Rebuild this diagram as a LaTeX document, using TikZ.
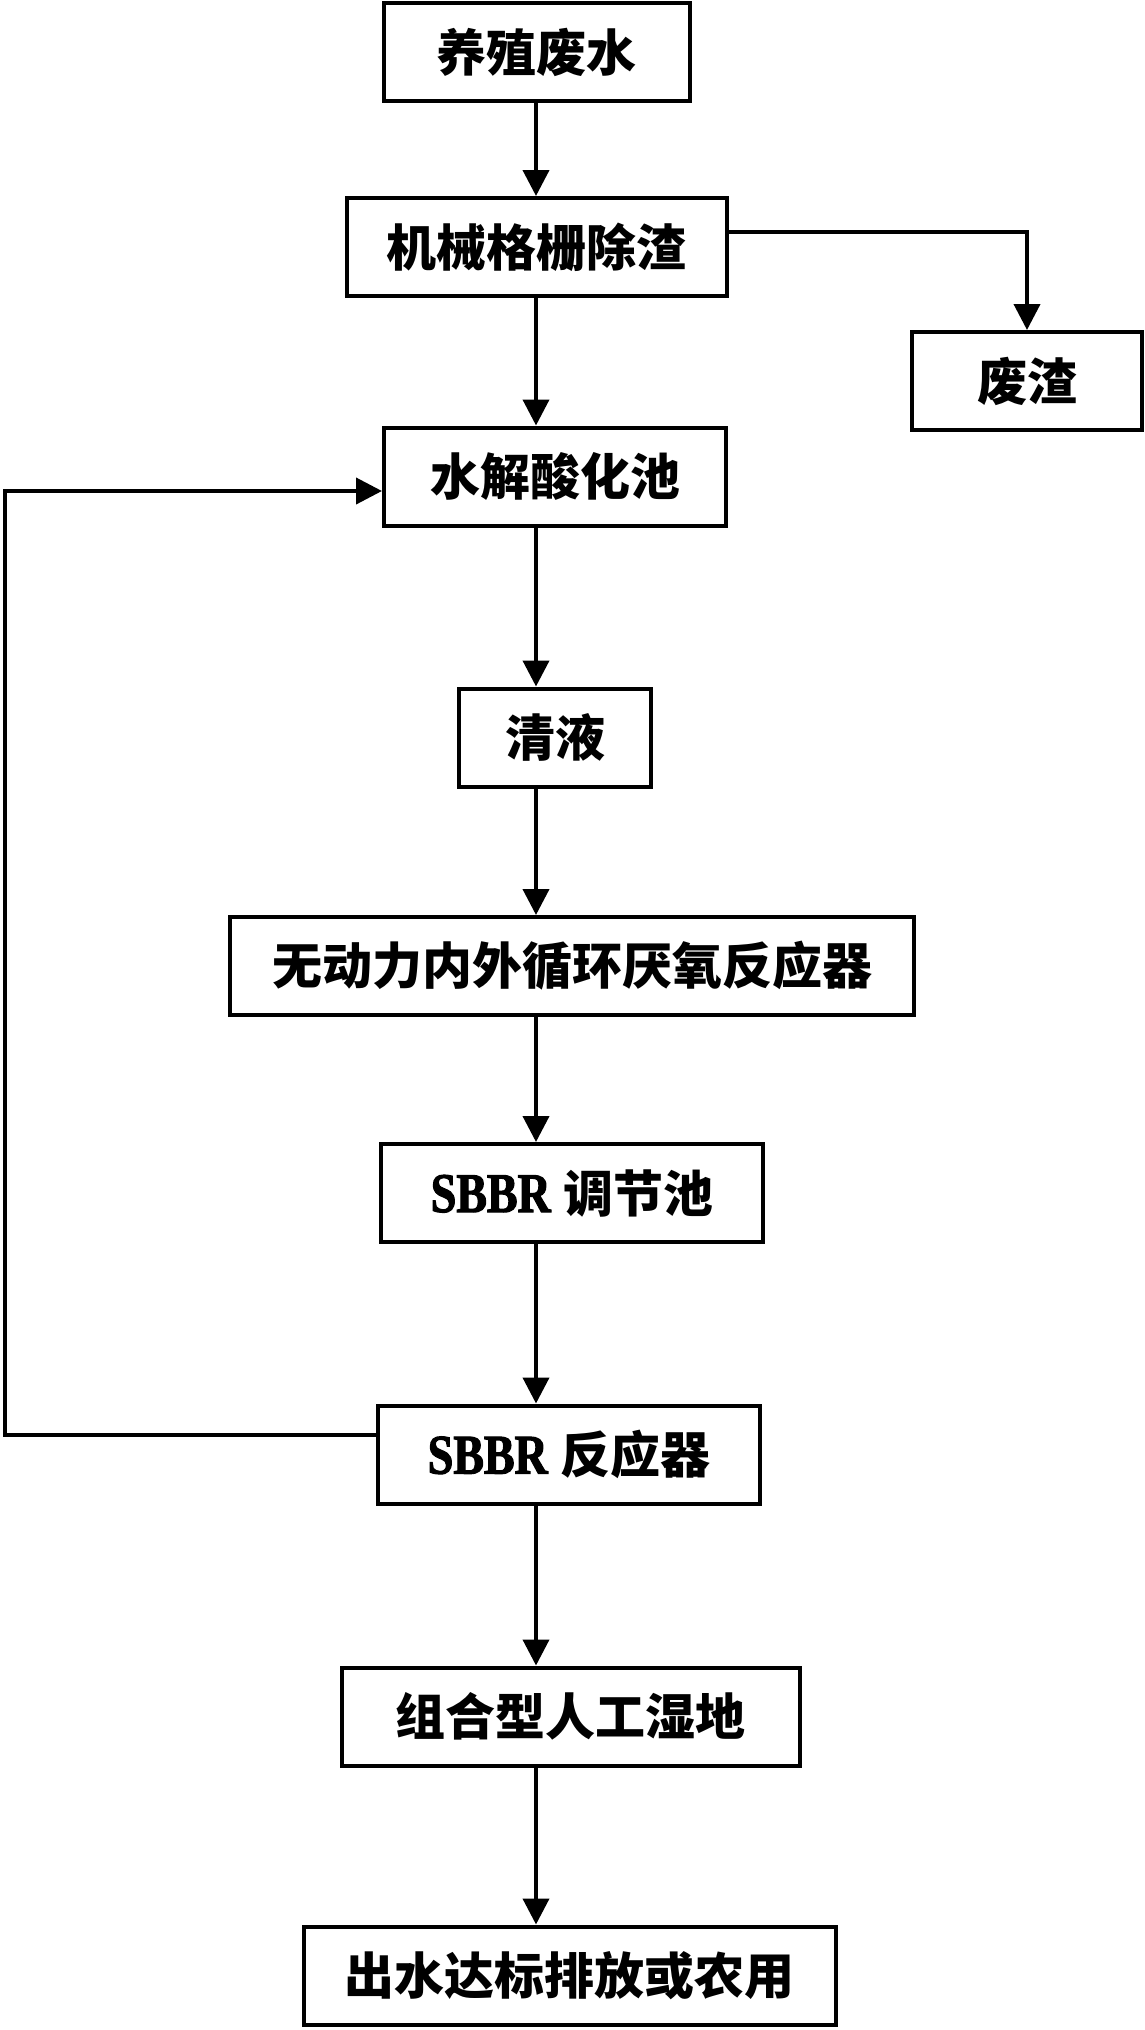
\documentclass[tikz,border=0pt]{standalone}
\usepackage{fontspec}
\setmainfont{Liberation Serif}
\newfontfamily\cjk{Noto Sans CJK SC}
\usepackage{tikz}
\usetikzlibrary{arrows.meta}

\newcommand{\sbbr}{{\fontsize{28pt}{30pt}\selectfont\bfseries\addfontfeature{FakeStretch=0.82,FakeBold=2}SBBR}}

\begin{document}
\begin{tikzpicture}[x=0.5pt,y=-0.5pt,>={Triangle[length=13pt,width=13pt]},
      line width=2pt,
      box/.style={rectangle,draw,line width=2pt,minimum height=49pt,inner sep=0pt,
        font=\fontsize{25pt}{30pt}\selectfont\bfseries}]

    \useasboundingbox (0,0) rectangle (1145,2030);
    \coordinate (spine) at (536,0);
    \coordinate (back) at (5,0);

    \node[box,minimum width=153pt] (src) at (536.5,52) {\cjk 养殖废水};
    \node[box,minimum width=190pt] (grid) at (536.5,247) {\cjk 机械格栅除渣};
    \node[box,minimum width=115pt] (slag) at (1027,381) {\cjk 废渣};
    \node[box,minimum width=171pt] (hydro) at (555,476.5) {\cjk 水解酸化池};
    \node[box,minimum width=96pt] (clear) at (555,737.5) {\cjk 清液};
    \node[box,minimum width=342pt] (anaer) at (572,966) {\cjk 无动力内外循环厌氧反应器};
    \node[box,minimum width=191pt] (adjust) at (572,1193) {\sbbr\ {\cjk 调节池}};
    \node[box,minimum width=191pt] (react) at (569,1454.5) {\sbbr\ {\cjk 反应器}};
    \node[box,minimum width=229pt] (wet) at (570.5,1716.5) {\cjk 组合型人工湿地};
    \node[box,minimum width=266pt] (out) at (569.5,1975.5) {\cjk 出水达标排放或农用};

    \path[->]
    (src.south -| spine) edge (grid.north -| spine)
    (grid.south -| spine) edge (hydro.north -| spine)
    (hydro.south -| spine) edge (clear.north -| spine)
    (clear.south -| spine) edge (anaer.north -| spine)
    (anaer.south -| spine) edge (adjust.north -| spine)
    (adjust.south -| spine) edge (react.north -| spine)
    (react.south -| spine) edge (wet.north -| spine)
    (wet.south -| spine) edge (out.north -| spine);

    % slag branch
    \draw[->] ([yshift=7.5pt]grid.east) -| (slag.north);

    % return line
    \draw[->] ([yshift=9.75pt]react.west) -- ([yshift=9.75pt]react.west -| back)
      |- ([yshift=-7.25pt]hydro.west);
\end{tikzpicture}
\end{document}
